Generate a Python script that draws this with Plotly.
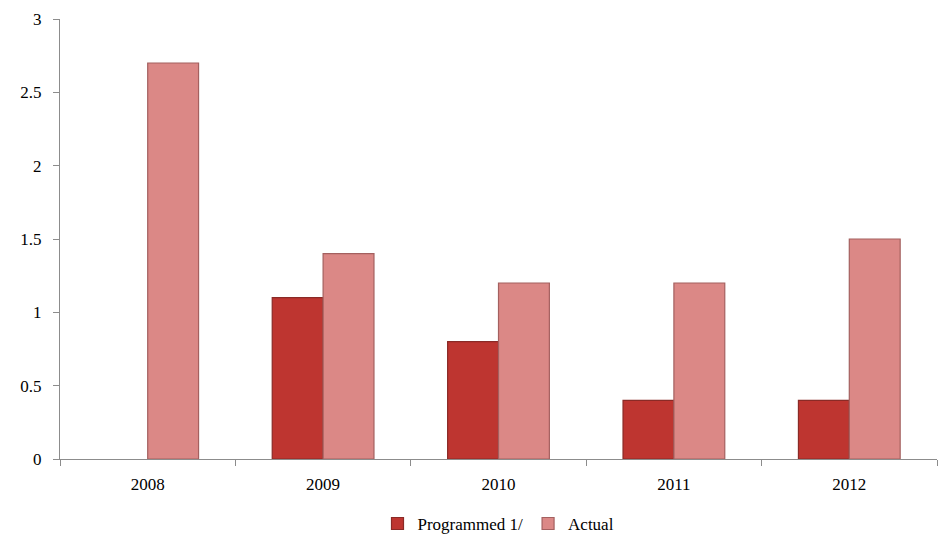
import plotly.graph_objects as go

years = ["2008", "2009", "2010", "2011", "2012"]
programmed = [None, 1.1, 0.8, 0.4, 0.4]
actual = [2.7, 1.4, 1.2, 1.2, 1.5]
y_ticks = [0, 0.5, 1, 1.5, 2, 2.5, 3]
y_tick_text = ["0", "0.5", "1", "1.5", "2", "2.5", "3"]

font_family = "Liberation Serif"

fig = go.Figure()
fig.add_trace(go.Bar(
    x=years, y=programmed, name="Programmed 1/",
    marker=dict(color="#BE3530", line=dict(color="#8A2A26", width=1.2)),
))
fig.add_trace(go.Bar(
    x=years, y=actual, name="Actual",
    marker=dict(color="#DB8886", line=dict(color="#A4605F", width=1.2)),
))

fig.update_layout(
    width=939, height=543,
    margin=dict(l=60, r=2, t=19, b=83),
    paper_bgcolor="white", plot_bgcolor="white",
    barmode="group", bargap=0.42, bargroupgap=0,
    font=dict(family=font_family, size=17, color="black"),
    showlegend=True,
    legend=dict(orientation="h", x=0.5, xanchor="center", xref="paper",
                y=-0.145, yanchor="middle", font=dict(family=font_family, size=17),
                itemwidth=30, traceorder="normal"),
)
fig.update_xaxes(
    type="category", showline=True, linecolor="#8C8C8C", linewidth=1,
    ticks="outside", tickson="boundaries", ticklen=6, tickcolor="#8C8C8C",
    showgrid=False, zeroline=False, ticklabelstandoff=10,
    tickfont=dict(family=font_family, size=17),
)
fig.update_yaxes(
    range=[0, 3], tickvals=y_ticks, ticktext=y_tick_text,
    showline=True, linecolor="#8C8C8C", linewidth=1,
    ticks="outside", ticklen=6, tickcolor="#8C8C8C",
    showgrid=False, zeroline=False, ticklabelstandoff=8,
    tickfont=dict(family=font_family, size=17),
)

fig.write_html("out.html")
